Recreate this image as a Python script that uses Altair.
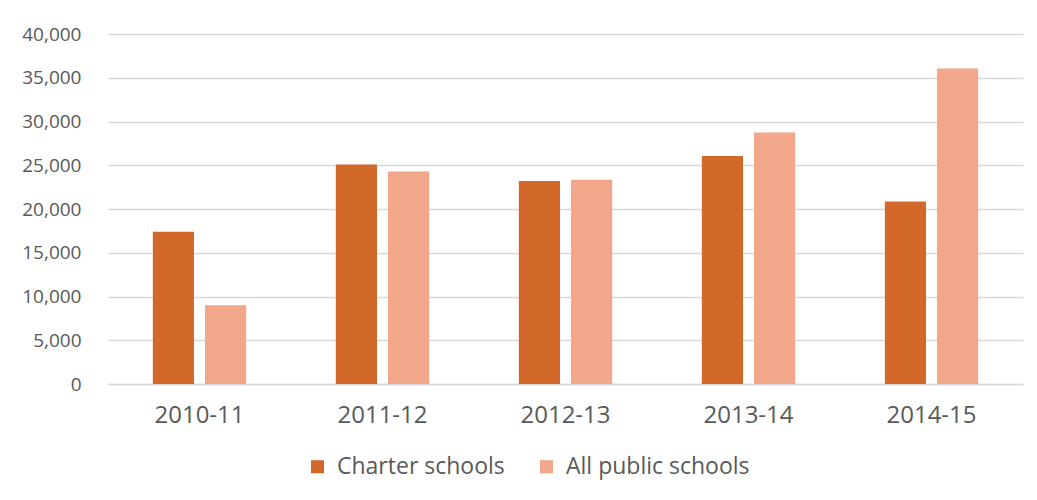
import altair as alt
import pandas as pd

years = ["2010-11", "2011-12", "2012-13", "2013-14", "2014-15"]
charter = [17400, 25100, 23200, 26050, 20850]
all_public = [9000, 24300, 23350, 28750, 36050]
series = ["Charter schools", "All public schools"]
colors = ["#D2692A", "#F2A68A"]

rows = []
for i, y in enumerate(years):
    rows.append({"year": y, "series": series[0], "value": charter[i]})
    rows.append({"year": y, "series": series[1], "value": all_public[i]})
df = pd.DataFrame(rows)

font = "Open Sans"

chart = alt.Chart(df).mark_bar().encode(
    x=alt.X("year:N", sort=years,
            scale=alt.Scale(paddingInner=0.49, paddingOuter=0.245),
            axis=alt.Axis(title=None, labelAngle=0, labelFontSize=24, labelColor="#595959",
                          labelFont=font, ticks=False, domainColor="#d9d9d9", domainWidth=1.5,
                          labelPadding=19)),
    xOffset=alt.XOffset("series:N", sort=series,
                        scale=alt.Scale(paddingInner=0.21, paddingOuter=0)),
    y=alt.Y("value:Q", scale=alt.Scale(domain=[0, 40000]),
            axis=alt.Axis(title=None, values=list(range(0, 40001, 5000)), format=",.0f",
                          labelFontSize=19, labelColor="#595959", labelFont=font,
                          ticks=False, domain=False, gridColor="#d9d9d9", gridWidth=1.5,
                          labelPadding=27)),
    color=alt.Color("series:N", sort=series,
                    scale=alt.Scale(domain=series, range=colors),
                    legend=alt.Legend(title=None, orient="none", direction="horizontal",
                                      legendX=198, legendY=421,
                                      symbolType="square", symbolSize=170,
                                      symbolStrokeWidth=0, labelFontSize=23,
                                      labelFont=font, labelColor="#595959",
                                      labelLimit=0,
                                      columnPadding=30, labelOffset=8)),
).properties(
    width=915, height=350,
    background="white",
    padding={"left": 108, "top": 34, "right": 14, "bottom": 116},
    autosize=alt.AutoSizeParams(type="none"),
).configure_view(strokeWidth=0)

chart.save("out.html", embed_options={"renderer": "svg", "actions": False})
